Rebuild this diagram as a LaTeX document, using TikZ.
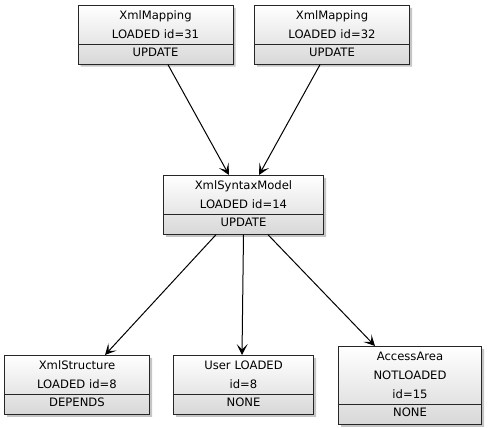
\documentclass[tikz,border=0pt]{standalone}
\usepackage{fontspec}
\setmainfont{DejaVu Sans}
\usetikzlibrary{shapes.multipart,shadows,arrows.meta}
\definecolor{boxline}{HTML}{262626}
\definecolor{boxshade}{HTML}{D8D8D8}
\newcommand{\lowstrut}{\rule[-7.5pt]{0pt}{19pt}}

\begin{document}
\begin{tikzpicture}[x=1pt,y=-1pt,
  entity/.style={rectangle split,rectangle split parts=2,draw=boxline,line width=0.9pt,
    top color=white,bottom color=boxshade,inner xsep=0pt,inner ysep=0pt,align=center,anchor=north,
    font=\fontsize{11.6}{19}\selectfont,
    drop shadow={shadow xshift=2.5pt,shadow yshift=-2.5pt,fill=black!45,opacity=0.5}},
  link/.style={-{Stealth[length=11pt,width=11pt,inset=5.5pt]},line width=1pt,black}]
\useasboundingbox (0,0) rectangle (488,428);

% mappings on top
\node[entity,text width=155pt] (mapA) at (155.5,5) {\strut XmlMapping\\LOADED id=31\strut \nodepart{two}\lowstrut UPDATE};
\node[entity,text width=155pt] (mapB) at (332,5) {\strut XmlMapping\\LOADED id=32\strut \nodepart{two}\lowstrut UPDATE};

% syntax model in the middle
\node[entity,text width=160pt] (model) at (243.5,175) {\strut XmlSyntaxModel\\LOADED id=14\strut \nodepart{two}\lowstrut UPDATE};

% dependents at the bottom
\node[entity,text width=145pt] (struct) at (77,355) {\strut XmlStructure\\LOADED id=8\strut \nodepart{two}\lowstrut DEPENDS};
\node[entity,text width=140pt] (user) at (243.5,355) {\strut User LOADED\\id=8\strut \nodepart{two}\lowstrut NONE};
\node[entity,text width=143pt] (area) at (410,346) {\strut AccessArea\\NOTLOADED\\id=15\strut \nodepart{two}\lowstrut NONE};

\draw[link] ([xshift=12.5pt]mapA.south) -- ([xshift=-14.5pt]model.north);
\draw[link] ([xshift=-12pt]mapB.south) -- ([xshift=15.5pt]model.north);
\draw[link] ([xshift=-27.5pt]model.south) -- ([xshift=28pt]struct.north);
\draw[link] (model.south) -- ([xshift=-1.5pt]user.north);
\draw[link] ([xshift=24.5pt]model.south) -- ([xshift=-35pt]area.north);
\end{tikzpicture}
\end{document}
